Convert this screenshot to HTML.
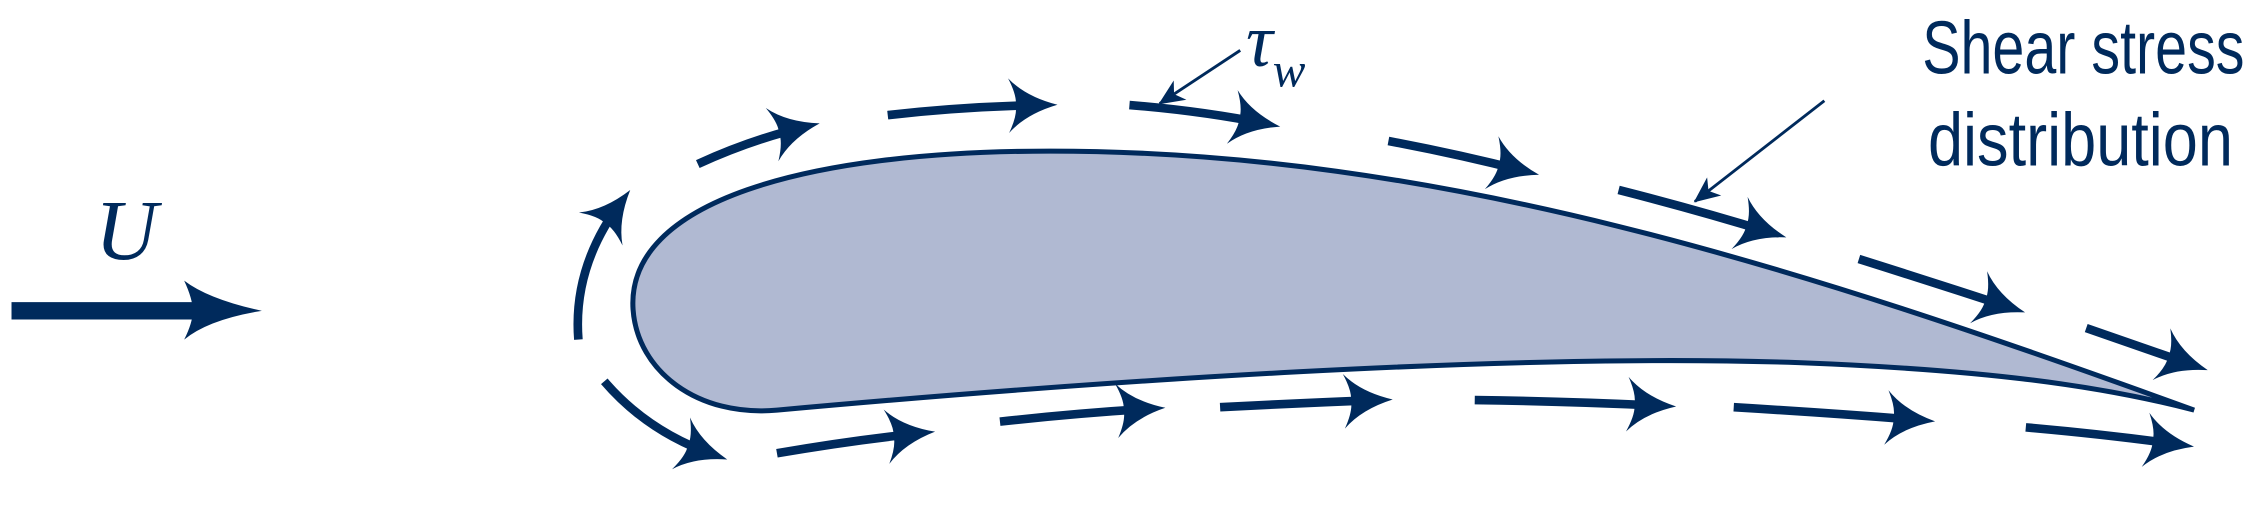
<!DOCTYPE html>
<html><head><meta charset="utf-8"><style>
html,body{margin:0;padding:0;background:#fff;}
svg{display:block;}
</style></head><body>
<svg width="2256" height="514" viewBox="0 0 1568 357.2" preserveAspectRatio="none" xmlns="http://www.w3.org/2000/svg">
<defs>
<marker id="ah" markerUnits="userSpaceOnUse" viewBox="-40 -22 54 44" refX="0" refY="0" markerWidth="54" markerHeight="44" orient="auto">
<path d="M10,0 Q-12,-6 -24,-19 Q-18,-7 -19,0 Q-18,7 -24,19 Q-12,6 10,0 Z" fill="#002a5c"/>
</marker>
<marker id="ahs" markerUnits="userSpaceOnUse" viewBox="-20 -10 22 20" refX="0" refY="0" markerWidth="22" markerHeight="20" orient="auto">
<path d="M1,0 L-17,-8 L-12,0 L-17,8 Z" fill="#002a5c"/>
</marker>
</defs>
<g>
<line x1="8" y1="216" x2="140" y2="216" stroke="#002a5c" stroke-width="12"/>
<path d="M182,216 Q145,222 128,236 Q134,224 134,216 Q134,208 128,195 Q145,208 182,216 Z" fill="#002a5c"/>
</g>
<text x="66" y="180" font-family="Liberation Serif, serif" font-style="italic" font-size="60" fill="#002a5c">U</text>
<path d="M1525,285 C1250,185 1000,105 730,105 C560,105 435,140 440,215 C443,258 485,290 540,285 C760,265 1050,245 1250,252 C1380,257 1460,268 1525,285 Z" fill="#b0b9d2" stroke="#002a5c" stroke-width="3.5"/>
<g stroke="#002a5c" stroke-width="6" fill="none" marker-end="url(#ah)">
<path d="M402,236 Q398,185 432,140"/>
<path d="M485,114 Q522,97 560,88"/>
<path d="M617,80 Q670,74 725,73"/>
<path d="M785,73 Q835,77 880,86"/>
<path d="M965,98 Q1013,107 1060,119"/>
<path d="M1125,132 Q1180,146 1232,162"/>
<path d="M1292,180 Q1346,197 1398,214"/>
<path d="M1450,228 Q1490,242 1525,254"/>
<path d="M420,265 Q450,300 496,316"/>
<path d="M540,315 Q592,306 640,301"/>
<path d="M695,293 Q750,287 800,284"/>
<path d="M848,283 Q905,280 958,278"/>
<path d="M1025,278 Q1092,279 1155,282"/>
<path d="M1205,283 Q1272,287 1335,292"/>
<path d="M1408,297 Q1465,302 1515,309"/>
</g>
<line x1="862" y1="35" x2="806" y2="72" stroke="#002a5c" stroke-width="2" marker-end="url(#ahs)"/>
<text x="866" y="46" font-family="Liberation Serif, serif" font-style="italic" font-size="52" fill="#002a5c">τ<tspan font-size="34" dx="0" dy="14">w</tspan></text>
<line x1="1268" y1="70" x2="1178" y2="140" stroke="#002a5c" stroke-width="2" marker-end="url(#ahs)"/>
<text x="1336" y="51" font-family="Liberation Sans, sans-serif" font-size="52" fill="#002a5c" textLength="224" lengthAdjust="spacingAndGlyphs">Shear stress</text>
<text x="1340" y="115" font-family="Liberation Sans, sans-serif" font-size="52" fill="#002a5c" textLength="212" lengthAdjust="spacingAndGlyphs">distribution</text>
</svg>
</body></html>
